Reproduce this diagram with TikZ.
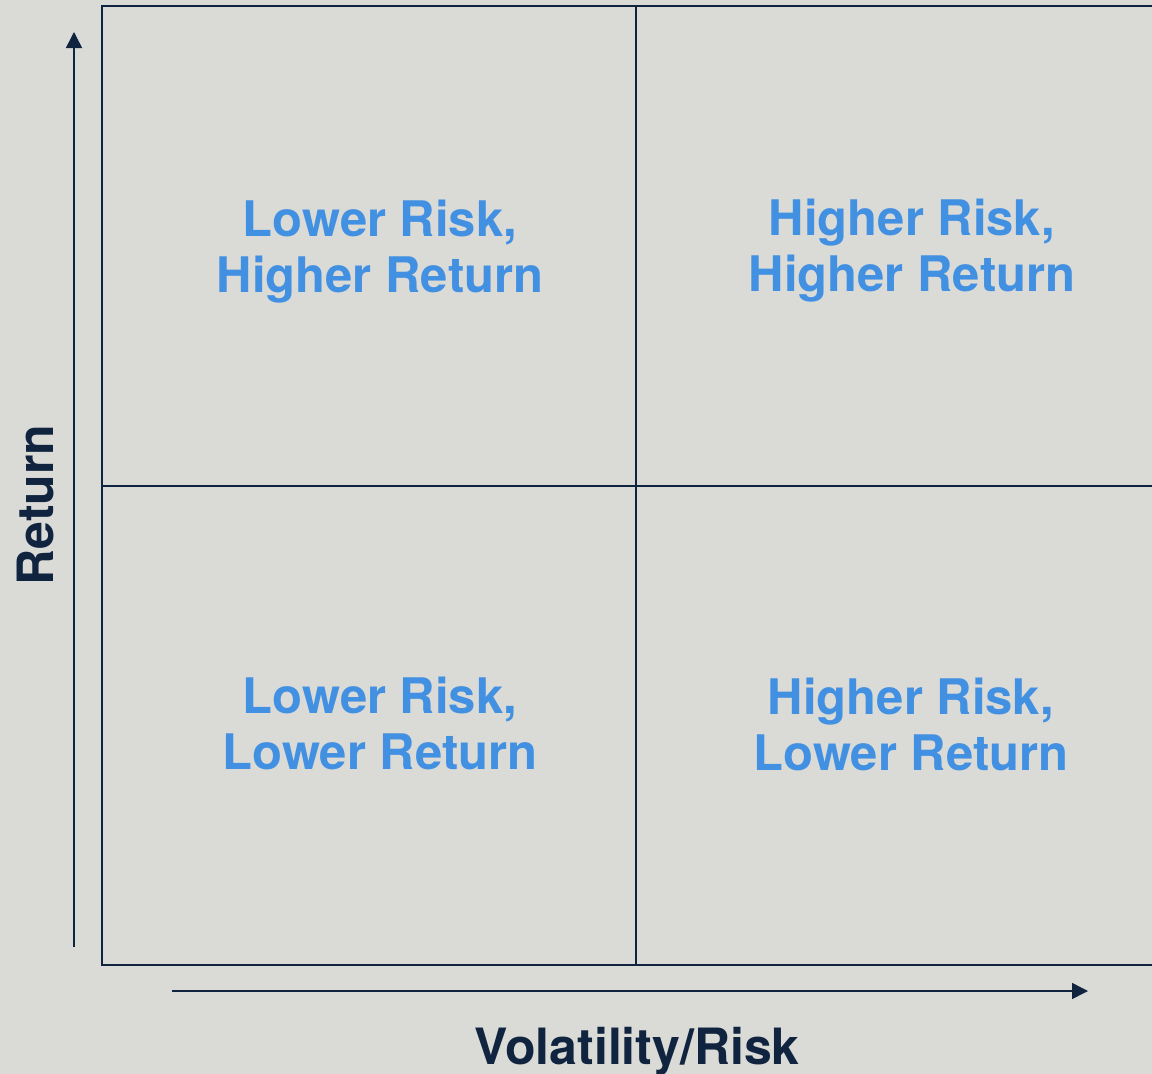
\documentclass[tikz,border=0pt]{standalone}
\usepackage{fontspec}
\usetikzlibrary{arrows.meta}
\setmainfont{TeX Gyre Heros}
\definecolor{bg}{RGB}{218,218,214}
\definecolor{navy}{RGB}{16,36,64}
\definecolor{qblue}{RGB}{66,144,226}
\begin{document}
\begin{tikzpicture}[x=1pt,y=-1pt,
  gridline/.style={draw=navy,line width=2.6pt},
  axisarrow/.style={draw=navy,line width=1.5pt,-{Triangle[length=16pt,width=16pt]}},
  qtext/.style={text=qblue,font=\fontsize{49}{56}\selectfont\bfseries,anchor=base,inner sep=0pt},
  axlabel/.style={text=navy,font=\fontsize{50}{56}\selectfont\bfseries,anchor=base,inner sep=0pt}]
\useasboundingbox (0,0) rectangle (1152,1074);
\fill[bg] (0,0) rectangle (1152,1074);
% grid
\coordinate (tl) at (102,6);
\coordinate (tr) at (1160,6);
\coordinate (bl) at (102,965);
\coordinate (br) at (1160,965);
\coordinate (mt) at (636,6);
\coordinate (mb) at (636,965);
\coordinate (ml) at (102,486);
\coordinate (mr) at (1160,486);
\draw[gridline] (tr) -- (tl) -- (bl) -- (br);
\draw[gridline] (mt) -- (mb);
\draw[gridline] (ml) -- (mr);
% axes
\coordinate (ya) at (74,947);
\coordinate (yb) at (74,32);
\coordinate (xa) at (172,991);
\coordinate (xb) at (1088,991);
\draw[axisarrow] (ya) -- (yb);
\draw[axisarrow] (xa) -- (xb);
% labels
\node[axlabel,rotate=90] (ret) at (53,505) {Return};
\node[axlabel] (vol) at (637,1064) {Volatility/Risk};
% quadrants
\node[qtext] (q1a) at (380,236) {Lower Risk,};
\node[qtext] (q1b) at (380,292) {Higher Return};
\node[qtext] (q2a) at (912,235) {Higher Risk,};
\node[qtext] (q2b) at (912,291) {Higher Return};
\node[qtext] (q3a) at (380,713) {Lower Risk,};
\node[qtext] (q3b) at (380,769) {Lower Return};
\node[qtext] (q4a) at (911,714) {Higher Risk,};
\node[qtext] (q4b) at (911,770) {Lower Return};
\end{tikzpicture}
\end{document}
